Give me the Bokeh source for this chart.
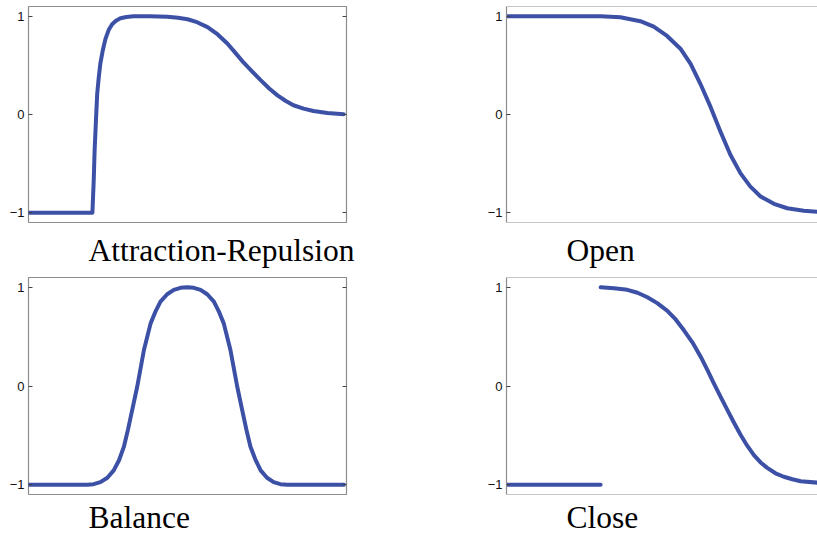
from bokeh.plotting import figure
from bokeh.layouts import column, row
from bokeh.models import FixedTicker, LinearAxis, Range1d, Span, Title
from bokeh.embed import file_html
from bokeh.resources import INLINE

# ---------------- data ----------------
ar_x = [0, 20.1, 20.5, 20.8, 21.2, 21.6, 22.1, 22.6, 23.4, 24.2,
        25.2, 26.3, 27.5, 28.9, 30.8, 33.0, 38, 43.7, 47, 50.0,
        53, 56.3, 59.5, 62.6, 65, 67.6, 70.3, 73.0, 75.7, 78.3,
        80.8, 83.3, 86.5, 89.6, 94, 99.1]
ar_y = [-1, -1, -0.68, -0.36, -0.07, 0.21, 0.38, 0.52, 0.66, 0.77,
        0.86, 0.92, 0.955, 0.98, 0.993, 1.0, 1.0, 0.995, 0.985, 0.97,
        0.94, 0.89, 0.815, 0.72, 0.63, 0.53, 0.44, 0.35, 0.265, 0.195,
        0.14, 0.094, 0.06, 0.036, 0.015, 0.003]

open_x = [0, 29.6, 35.8, 42.1, 46.3, 50.5, 54.7, 57.9, 61.0, 64.2,
          67.3, 70.4, 73.6, 76.7, 79.9, 84.1, 88.3, 93.5, 97.8]
open_y = [1, 1, 0.99, 0.95, 0.895, 0.80, 0.67, 0.515, 0.31, 0.075,
          -0.175, -0.41, -0.6, -0.735, -0.835, -0.91, -0.955, -0.98, -0.99]

bal_x = [0, 18.5, 20.5, 22.6, 24.8, 26.8, 28.5, 30.0, 31.3, 32.6,
         34.2, 36.3, 38.4, 40.0, 41.5, 43.6, 45.7, 47.8, 49.9, 52.0,
         54.1, 56.2, 58.3, 59.8, 61.4, 63.5, 65.6, 67.2, 68.5, 69.8,
         71.4, 73.0, 75.0, 77.1, 79.2, 81.4, 99.2]
bal_y = [-1, -1, -0.995, -0.975, -0.93, -0.855, -0.75, -0.615, -0.44, -0.245,
         -0.005, 0.365, 0.635, 0.76, 0.855, 0.93, 0.975, 0.995, 1.0, 0.995,
         0.975, 0.93, 0.855, 0.76, 0.635, 0.365, 0.0, -0.245, -0.44, -0.615,
         -0.75, -0.855, -0.93, -0.975, -0.995, -1, -1]

close1_x = [0, 29.6]
close1_y = [-1, -1]
close2_x = [29.6, 33.8, 38.0, 41.2, 44.3, 47.4, 50.5, 53.2, 55.8, 58.5,
            61.1, 63.2, 65.2, 67.3, 69.4, 71.5, 73.6, 75.7, 77.8, 79.9,
            82.0, 84.6, 87.2, 89.9, 92.5, 97.8]
close2_y = [1.0, 0.99, 0.975, 0.945, 0.9, 0.84, 0.765, 0.675, 0.565, 0.44,
            0.295, 0.16, 0.027, -0.107, -0.24, -0.37, -0.495, -0.605, -0.7, -0.775,
            -0.83, -0.885, -0.92, -0.945, -0.965, -0.98]

y_ticks = [-1, 0, 1]
y_tick_labels = {-1: "\u22121", 0: "0", 1: "1"}
titles = ["Attraction-Repulsion", "Open", "Balance", "Close"]

# ---------------- styling ----------------
LINE_COLOR = "#3c50a6"
BORDER = "#8c8c8c"
TICK_FONT = "Liberation Sans"
TITLE_FONT = "Liberation Serif"


def make_panel(width, height, mbl, mbr, mbt, mbb, x_end, y_rng, left_col):
    p = figure(width=width, height=height,
               x_range=Range1d(0, x_end), y_range=Range1d(*y_rng),
               x_axis_location=None,
               output_backend="svg", toolbar_location=None,
               min_border_left=mbl, min_border_right=mbr,
               min_border_top=mbt, min_border_bottom=mbb,
               background_fill_color="white", border_fill_color="white")
    p.grid.visible = False
    ya = p.yaxis[0]
    ya.ticker = FixedTicker(ticks=y_ticks)
    ya.major_label_overrides = y_tick_labels
    ya.major_tick_in = 4
    ya.major_tick_out = 0
    ya.minor_tick_in = 0
    ya.minor_tick_out = 0
    ya.major_tick_line_color = "#444444"
    ya.major_label_standoff = 4
    ya.major_label_text_font = TICK_FONT
    ya.major_label_text_font_size = "13px"
    ya.major_label_text_color = "#111111"
    if left_col:
        p.outline_line_color = BORDER
        p.outline_line_width = 1.2
        ya.axis_line_color = None
        ra = LinearAxis(ticker=FixedTicker(ticks=y_ticks),
                        major_tick_in=4, major_tick_out=0,
                        minor_tick_in=0, minor_tick_out=0,
                        major_tick_line_color="#444444",
                        axis_line_color=None,
                        major_label_text_color=None,
                        major_label_standoff=0)
        p.add_layout(ra, "right")
    else:
        p.outline_line_color = None
        ya.axis_line_color = BORDER
        ya.axis_line_width = 1.2
        p.add_layout(Span(location=y_rng[1], dimension="width",
                          line_color=BORDER, line_width=1.2))
        p.add_layout(Span(location=y_rng[0], dimension="width",
                          line_color=BORDER, line_width=1.2))
    return p


Y_RNG = (-1.1, 1.1)

p1 = make_panel(470, 276, 28, 124, 6, 53, 100, Y_RNG, True)
p2 = make_panel(347, 276, 36, 0, 6, 53, 97.8, Y_RNG, False)
p3 = make_panel(470, 262, 28, 124, 1, 43, 100, Y_RNG, True)
p4 = make_panel(347, 262, 36, 0, 1, 43, 97.8, Y_RNG, False)

lw = 4
p1.line(ar_x, ar_y, line_color=LINE_COLOR, line_width=lw, line_join="round", line_cap="round")
p2.line(open_x, open_y, line_color=LINE_COLOR, line_width=lw, line_join="round", line_cap="round")
p3.line(bal_x, bal_y, line_color=LINE_COLOR, line_width=lw, line_join="round", line_cap="round")
p4.line(close1_x, close1_y, line_color=LINE_COLOR, line_width=lw, line_join="round", line_cap="round")
p4.line(close2_x, close2_y, line_color=LINE_COLOR, line_width=lw, line_join="round", line_cap="round")

for p, t, so in ((p1, titles[0], 17), (p2, titles[1], 17), (p3, titles[2], 7), (p4, titles[3], 7)):
    p.add_layout(Title(text=t, align="left", offset=60, standoff=so,
                       text_font=TITLE_FONT, text_font_size="31.5px",
                       text_font_style="normal", text_color="black"), "below")

layout = column(row(p1, p2), row(p3, p4))
open("out.html", "w").write(file_html(layout, INLINE))
